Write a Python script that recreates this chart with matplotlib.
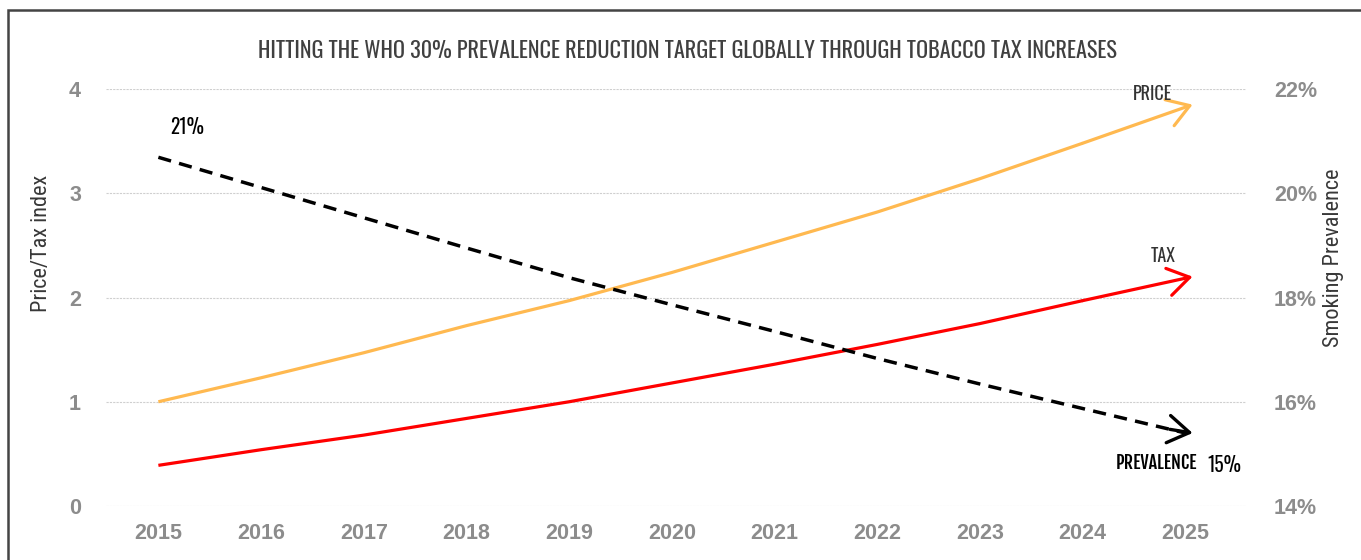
import matplotlib.pyplot as plt
from matplotlib.patches import Rectangle
from matplotlib import font_manager

years = [2015, 2016, 2017, 2018, 2019, 2020, 2021, 2022, 2023, 2024, 2025]
price = [1.00, 1.23, 1.47, 1.73, 1.97, 2.24, 2.53, 2.82, 3.14, 3.48, 3.85]
tax = [0.39, 0.54, 0.68, 0.84, 1.00, 1.18, 1.36, 1.55, 1.75, 1.97, 2.20]
prevalence = [20.69, 20.11, 19.53, 18.95, 18.38, 17.86, 17.35, 16.83, 16.34, 15.87, 15.40]

left_ticks = [0, 1, 2, 3, 4]
right_ticks = [14, 16, 18, 20, 22]

names = {f.name for f in font_manager.fontManager.ttflist}


def pick(cands):
    for c in cands:
        if c in names:
            return [c, 'DejaVu Sans']
    return ['DejaVu Sans']


gothic = pick(['Oswald', 'Pathway Gothic One', 'League Gothic', 'Antonio', 'Asap Condensed'])
heavy = pick(['Fjalla One', 'Oswald', 'Antonio'])
narrow = pick(['Roboto Condensed', 'Open Sans Condensed', 'Asap Condensed', 'Archivo Narrow'])
plt.rcParams['font.family'] = pick(['Liberation Sans', 'Arimo'])

tick_col = '#8c8c8c'
dark = '#404040'

fig = plt.figure(figsize=(13.61, 5.6), dpi=100)
ax = fig.add_axes([106 / 1361, 54 / 560, 1140 / 1361, 417 / 560])
ax2 = ax.twinx()

ax.set_xlim(2014.49, 2025.59)
ax.set_ylim(0, 4)
ax2.set_ylim(14, 22)

for a in (ax, ax2):
    for s in a.spines.values():
        s.set_visible(False)
    a.tick_params(length=0)

ax.set_yticks(left_ticks)
ax.set_yticklabels([str(t) for t in left_ticks], color=tick_col, fontweight='bold', fontsize=15.5)
ax2.set_yticks(right_ticks)
ax2.set_yticklabels([f'{t}%' for t in right_ticks], color=tick_col, fontweight='bold', fontsize=15.5)
ax.set_xticks(years)
ax.set_xticklabels([str(y) for y in years], color=tick_col, fontweight='bold', fontsize=15.5)
ax.tick_params(axis='y', pad=18)
ax.tick_params(axis='x', pad=12)
ax2.tick_params(axis='y', pad=20)
ax.yaxis.grid(True, color='#cfcfcf', linestyle=(0, (2, 1)), linewidth=0.8)
ax.set_axisbelow(True)

# axis titles sit above the axis middle in the original
fig.text(42 / 1361, 1 - 243 / 560, 'Price/Tax index', family=narrow, fontsize=16, color='#383838',
         rotation=90, ha='center', va='center')
fig.text(1334 / 1361, 1 - 258 / 560, 'Smoking Prevalence', family=narrow, fontsize=16, color='#383838',
         rotation=90, ha='center', va='center')

# lines with open arrowheads at the end
head = '->,head_length=0.7,head_width=0.45'
ax.plot(years[:-1], price[:-1], color='#ffb950', lw=2.3, solid_capstyle='butt')
ax.annotate('', xy=(years[-1] + 0.07, price[-1]), xytext=(years[-2], price[-2]),
            arrowprops=dict(arrowstyle=head, color='#ffb950', lw=2.3, shrinkA=0, shrinkB=0, mutation_scale=22))
ax.plot(years[:-1], tax[:-1], color='#ff0000', lw=2.3, solid_capstyle='butt')
ax.annotate('', xy=(years[-1] + 0.07, tax[-1]), xytext=(years[-2], tax[-2]),
            arrowprops=dict(arrowstyle=head, color='#ff0000', lw=2.3, shrinkA=0, shrinkB=0, mutation_scale=22))
ax2.plot(years, prevalence, color='black', lw=2.5, dashes=(3.8, 2.4))
ax2.annotate('', xy=(years[-1] + 0.07, prevalence[-1]), xytext=(years[-1] - 0.15, prevalence[-1] + 0.07),
             arrowprops=dict(arrowstyle=head, color='black', lw=2.4, shrinkA=0, shrinkB=0, mutation_scale=22))

off = dict(textcoords='offset pixels', va='center')
ax.annotate('PRICE', xy=(years[-1], price[-1]), xytext=(-13, 11), ha='right', color='#333333',
            family=gothic, fontsize=13, **off)
ax.annotate('TAX', xy=(years[-1], tax[-1]), xytext=(-10, 21), ha='right', color='#333333',
            family=gothic, fontsize=13, **off)
ax2.annotate('PREVALENCE', xy=(years[-1], prevalence[-1]), xytext=(12, -30), ha='right',
             color='black', family=heavy, fontsize=13, **off)
ax2.annotate(f'{round(prevalence[-1])}%', xy=(years[-1], prevalence[-1]), xytext=(22, -32), ha='left',
             color='black', family=gothic, fontsize=14, **off)
ax2.annotate(f'{round(prevalence[0])}%', xy=(years[0], prevalence[0]), xytext=(12, 30), ha='left',
             color='black', family=gothic, fontsize=14, **off)

fig.text(687 / 1361, 1 - 51 / 560, 'HITTING THE WHO 30% PREVALENCE REDUCTION TARGET GLOBALLY THROUGH TOBACCO TAX INCREASES',
         family=gothic, fontsize=16, color=dark, ha='center', va='center')

fig.patches.append(Rectangle((8 / 1361, -0.1), 1.2, 1.1 - 10 / 560, transform=fig.transFigure,
                             fill=False, edgecolor='#444444', lw=1.8, zorder=-1))

fig.savefig('out.png', dpi=100)
